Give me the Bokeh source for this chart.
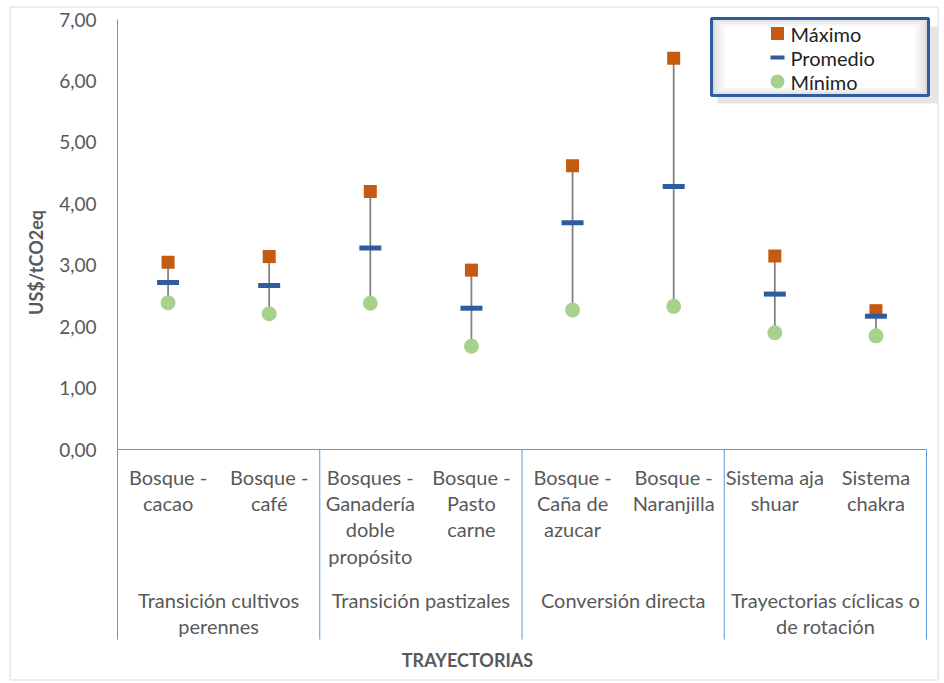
import math

from bokeh.core.properties import value
from bokeh.embed import file_html
from bokeh.models import ColumnDataSource, Range1d
from bokeh.plotting import figure
from bokeh.resources import INLINE

# ---------------- data ----------------
grupos = [
    "Transición cultivos\nperennes",
    "Transición pastizales",
    "Conversión directa",
    "Trayectorias cíclicas o\nde rotación",
]
grupo_tamano = [2, 2, 2, 2]
trayectorias = [
    "Bosque -\ncacao",
    "Bosque -\ncafé",
    "Bosques -\nGanadería\ndoble\npropósito",
    "Bosque -\nPasto\ncarne",
    "Bosque -\nCaña de\nazucar",
    "Bosque -\nNaranjilla",
    "Sistema aja\nshuar",
    "Sistema\nchakra",
]
maximo = [3.05, 3.14, 4.20, 2.92, 4.62, 6.37, 3.15, 2.26]
promedio = [2.72, 2.67, 3.28, 2.30, 3.69, 4.28, 2.53, 2.17]
minimo = [2.39, 2.21, 2.38, 1.68, 2.27, 2.33, 1.90, 1.85]
y_ticks = [0, 1, 2, 3, 4, 5, 6, 7]
y_tick_labels = [f"{t:.2f}".replace(".", ",") for t in y_ticks]
serie_nombres = ["Máximo", "Promedio", "Mínimo"]

# ---------------- layout (pixels) ----------------
W, H = 944, 683
X0, PPX = 117, 809 / len(trayectorias)     # x of first category edge, px per category
Y0, PPY = 449, 430 / y_ticks[-1]           # y of value 0, px per unit


def dx(px):
    return (px - X0) / PPX


def dy(py):
    return (Y0 - py) / PPY


FONT = "Lato"
GREY_TXT = "#595959"
AXIS_BLUE = "#5B9BD5"
C_MAX = "#C55A11"
C_AVG = "#2F5C9E"
C_MIN = "#A9D18E"
LBL_SIZE = "20px"

p = figure(
    width=W, height=H, output_backend="svg", toolbar_location=None,
    x_range=Range1d(dx(0), dx(W)), y_range=Range1d(dy(H), dy(0)),
    x_axis_location=None, y_axis_location=None,
    min_border_left=0, min_border_right=0, min_border_top=0, min_border_bottom=0,
)
p.grid.visible = False
p.outline_line_color = None
p.background_fill_color = "white"
p.border_fill_color = "white"

# outer chart border
p.quad(left=[dx(9.5)], right=[dx(937.5)], top=[dy(6.5)], bottom=[dy(679.5)],
       fill_color=None, line_color="#D9D9D9", line_width=1)

# ---------------- value axis ----------------
n = len(trayectorias)
p.segment(x0=[0], y0=[y_ticks[-1]], x1=[0], y1=[y_ticks[0]], line_color=AXIS_BLUE, line_width=1)
p.text(x=[dx(96)] * len(y_ticks), y=y_ticks, text=y_tick_labels, text_align="right",
       text_baseline="middle", text_font=value(FONT), text_font_size="19px", text_color=GREY_TXT)
p.text(x=[dx(35)], y=[dy(262)], text=["US$/tCO2eq"], angle=math.pi / 2,
       text_align="center", text_baseline="middle", text_font=value(FONT),
       text_font_size="18px", text_font_style="bold", text_color=GREY_TXT)

# ---------------- category axis ----------------
xc = [i + 0.5 for i in range(n)]
bottom_y = dy(639)
bounds = [0]
for s in grupo_tamano:
    bounds.append(bounds[-1] + s)

p.segment(x0=[0], y0=[0], x1=[0], y1=[bottom_y], line_color=AXIS_BLUE, line_width=1)
p.segment(x0=[0], y0=[0], x1=[n], y1=[0], line_color=AXIS_BLUE, line_width=1)
p.segment(x0=bounds[1:], y0=[0] * len(bounds[1:]), x1=bounds[1:], y1=[bottom_y] * len(bounds[1:]),
          line_color=AXIS_BLUE, line_width=1)

p.text(x=xc, y=[dy(464)] * n, text=trayectorias, text_align="center", text_baseline="top",
       text_font=value(FONT), text_font_size=LBL_SIZE, text_color=GREY_TXT, text_line_height=1.1)

gx = [(bounds[i] + bounds[i + 1]) / 2 for i in range(len(grupos))]
p.text(x=gx, y=[dy(587)] * len(grupos), text=grupos, text_align="center", text_baseline="top",
       text_font=value(FONT), text_font_size=LBL_SIZE, text_color=GREY_TXT, text_line_height=1.1)

p.text(x=[dx(467)], y=[dy(659)], text=["TRAYECTORIAS"], text_align="center", text_baseline="middle",
       text_font=value(FONT), text_font_size="18px", text_font_style="bold", text_color=GREY_TXT)

# ---------------- data marks ----------------
src = ColumnDataSource(dict(x=xc, mx=maximo, av=promedio, mn=minimo))
p.segment(x0="x", y0="mn", x1="x", y1="mx", source=src, line_color="#7F7F7F", line_width=1.75)
p.scatter(x="x", y="mx", source=src, marker="square", size=13, fill_color=C_MAX, line_color=None)
p.scatter(x="x", y="mn", source=src, marker="circle", size=15, fill_color=C_MIN, line_color=None)
p.scatter(x="x", y="av", source=src, marker="dash", size=22, line_color=C_AVG, line_width=5)

# ---------------- legend box ----------------
LX0, LX1, LY0, LY1 = 711, 928, 18, 95
p.quad(left=[dx(LX0 + 6)], right=[dx(LX1 + 9)], top=[dy(LY0 + 8)], bottom=[dy(LY1 + 8)],
       fill_color="#8C8C8C", fill_alpha=0.22, line_color=None)
for inset, shade in [(0, "#D9D9D9"), (3, "#E5E5E5"), (6, "#EEEEEE"), (9, "#F6F6F6"), (13, "#FFFFFF")]:
    p.quad(left=[dx(LX0 + inset)], right=[dx(LX1 - inset)], top=[dy(LY0 + inset * 0.6)],
           bottom=[dy(LY1 - inset * 0.6)], fill_color=shade, line_color=None)
p.quad(left=[dx(LX0)], right=[dx(LX1)], top=[dy(LY0)], bottom=[dy(LY1)],
       fill_color=None, line_color=C_AVG, line_width=3)

rows = [dy(33), dy(57), dy(81)]
mkx = dx(777)
p.scatter(x=[mkx], y=[rows[0]], marker="square", size=13, fill_color=C_MAX, line_color=None)
p.scatter(x=[mkx], y=[rows[1]], marker="dash", size=14, line_color=C_AVG, line_width=4)
p.scatter(x=[mkx], y=[rows[2]], marker="circle", size=14, fill_color=C_MIN, line_color=None)
p.text(x=[dx(790)] * 3, y=rows, text=serie_nombres, text_align="left", text_baseline="middle",
       text_font=value(FONT), text_font_size="20px", text_color="#1F1F1F")

open("out.html", "w").write(file_html(p, INLINE))
